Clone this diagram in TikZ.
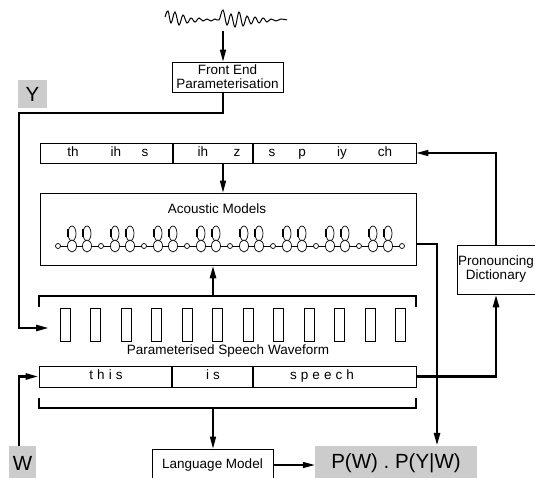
\documentclass[tikz,border=0pt]{standalone}
\usepackage{fontspec}
\setmainfont{Liberation Sans}
\newfontfamily\spacedfont[LetterSpace=30]{Liberation Sans}
\usepackage{xcolor}
\usepackage{tikz}
\usetikzlibrary{arrows.meta,positioning,calc,shapes.geometric}

\begin{document}
\begin{tikzpicture}[
  x=1pt, y=-1pt,
  every node/.style={font=\fontsize{13.5}{14}\selectfont, inner sep=0pt},
  lbl/.style={text height=9.5pt, text depth=2.7pt},
  box/.style={draw, line width=0.8pt, fill=white},
  gbox/.style={fill=gray!40, font=\fontsize{20.5}{22}\selectfont},
  arr/.style={-{Triangle[length=12pt,width=6pt]}, line width=1.4pt},
  tarr/.style={-{Triangle[length=13pt,width=6pt]}, line width=2.6pt},
  brace/.style={line width=2.6pt},
  state/.style={draw, line width=0.7pt, fill=white, ellipse, minimum width=9pt, minimum height=12pt},
  tiny/.style={draw, line width=0.7pt, fill=white, circle, minimum size=5pt}
]
  \useasboundingbox (0,0) rectangle (535,478);
  % Waveform
  \draw[line width=1pt] plot[smooth, tension=0.6] coordinates {(165,17) (168,11) (171,23) (175,12) (179,25) (183,15)
    (187,23) (191,18) (195,22) (199,18) (203,21) (207,19) (211,21) (215,19) (219,20)
    (223,10) (227,25) (231,14) (235,27) (239,12) (243,26) (247,16) (251,24) (255,17) (259,23) (263,18)
    (267,22) (271,19) (276,21) (281,19) (287,20)};
  \coordinate (wave) at (223,31);
  % Nodes
  \node[box, minimum width=111pt, minimum height=30pt, align=center] (fe) at (227.5,77) {Front End\\Parameterisation};
  \node[gbox, minimum width=29pt, minimum height=28pt] (Y) at (32.5,94) {Y};
  \node[box, minimum width=376pt, minimum height=20pt] (phones) at (228,153) {};
  \foreach \x/\p in {73/th,116/ih,145/s,203/ih,237/z,272/s,302/p,342/iy,385/ch}
    \node[lbl] (ph\x) at (\x,153) {\p};
  \draw[line width=1.3pt] (173,143) -- (173,163) (253,143) -- (253,163);
  \node[box, minimum width=376pt, minimum height=72pt] (am) at (228,229) {};
  \node[lbl] (amlabel) at (217,210) {Acoustic Models};
  % HMM chain
  \draw[line width=0.7pt] (58,246) -- (402,246);
  \foreach \k [evaluate=\k as \x using 58+43*\k] in {0,...,7} {
    \draw[line width=0.7pt] ({\x+14},233.5) ellipse [x radius=4, y radius=7.5];
    \draw[line width=0.7pt] ({\x+29},233.5) ellipse [x radius=4, y radius=7.5];
    \draw[line width=1.8pt] ({\x+10},229) -- ({\x+10},237) ({\x+25},229) -- ({\x+25},237);
    \node[state] (sa\k) at ({\x+14},246) {};
    \node[state] (sb\k) at ({\x+29},246) {};
  }
  \foreach \k [evaluate=\k as \x using 58+43*\k] in {0,...,8}
    \node[tiny] (n\k) at (\x,246) {};
  % Parameterised speech
  \draw[brace] (39,307) -- (39,296) -- (416,296) -- (416,307);
  \coordinate (brtop) at (213,296);
  \foreach \k in {0,...,11}
    \draw[line width=0.7pt] ({60+30.5*\k},308) rectangle +(10,33);
  \node[lbl] (pswlabel) at (228,351) {Parameterised Speech Waveform};
  \coordinate (yin) at (49,328);
  \coordinate (ybend) at (19,113);
  % Words
  \node[box, minimum width=377pt, minimum height=21pt] (words) at (227.5,376.5) {};
  \foreach \x/\w in {106/this,213/is,322/speech}
    \node[lbl, font=\fontsize{13.5}{14}\spacedfont] (w\w) at (\x,376.5) {\w};
  \draw[line width=1.3pt] (172,366) -- (172,387) (253,366) -- (253,387);
  \draw[brace] (39,398) -- (39,408) -- (416,408) -- (416,398);
  \coordinate (brbot) at (213,408);
  \node[box, minimum width=121pt, minimum height=32pt] (lm) at (212.5,465) {Language Model};
  \node[gbox, minimum width=162pt, minimum height=34pt] (P) at (396,463) {P(W) . P(Y|W)};
  \node[gbox, minimum width=27pt, minimum height=34pt] (W) at (22.5,463) {W};
  \node[box, minimum width=78pt, minimum height=49pt, align=center] (dict) at (496,269.5) {Pronouncing\\Dictionary};
  % Arrows
  \draw[arr] (wave) -- (wave |- fe.north);
  \draw[tarr] (wave |- fe.south) |- (ybend) |- (yin);
  \draw[arr] ([xshift=-5pt]phones.south) -- ([xshift=-5pt]am.north);
  \draw[tarr] (brtop) -- (brtop |- am.south);
  \draw[tarr] ([yshift=-15pt]am.east) -| ([xshift=41pt]P.north);
  \draw[tarr] (words.east) -| (dict.south);
  \draw[arr] (dict.north) |- (phones.east);
  \draw[tarr] ([xshift=-3.5pt]W.north) |- (words.west);
  \draw[arr] (brbot) -- (brbot |- lm.north);
  \draw[arr] (lm.east) -- (lm.east -| P.west);
\end{tikzpicture}
\end{document}
